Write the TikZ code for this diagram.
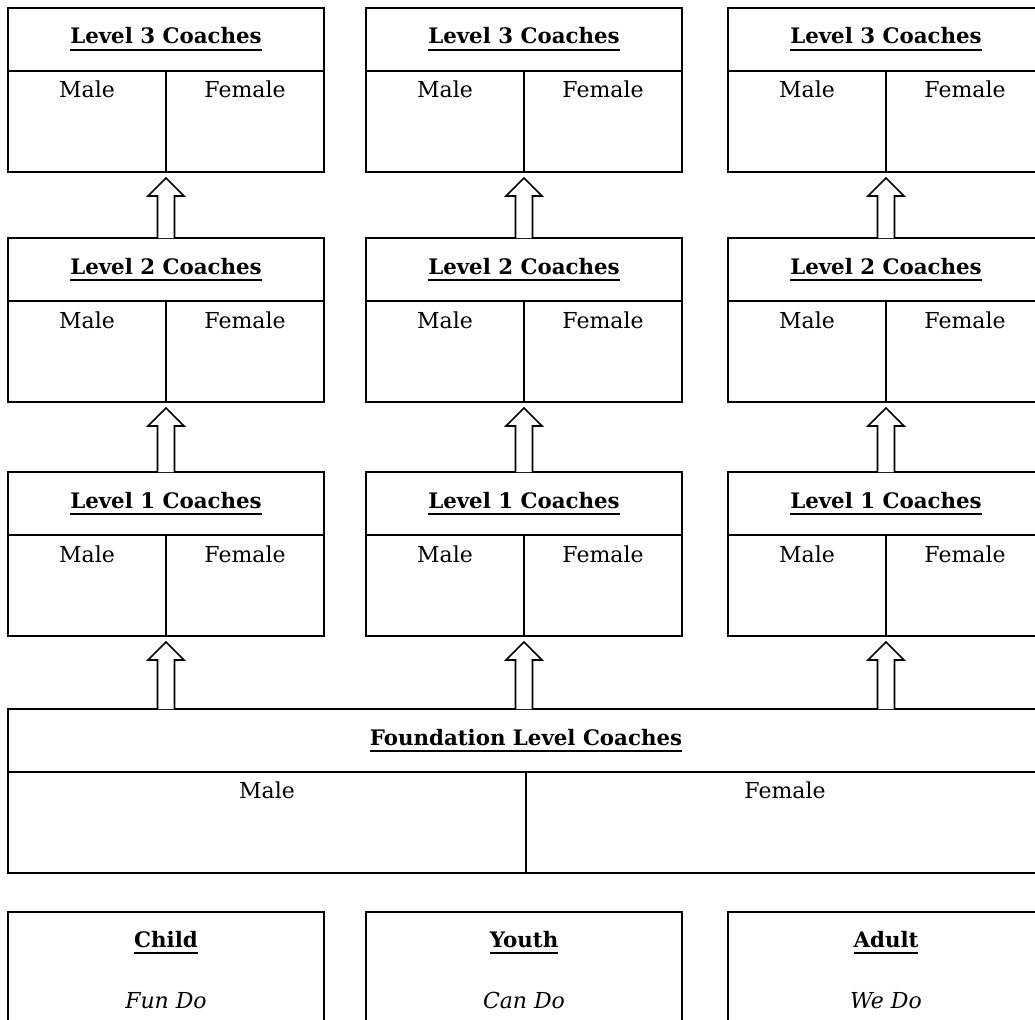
\documentclass[tikz,border=0pt]{standalone}
\usepackage{fontspec}
\setmainfont{DejaVu Serif}
\usetikzlibrary{calc}
\newlength\px \setlength\px{0.75pt}
\newcommand\myul[1]{\setbox0\hbox{#1}\rlap{\rule[-5pt]{\wd0}{1.5pt}}\box0}
\begin{document}
\begin{tikzpicture}[x=0.75pt,y=-0.75pt,
  hdr/.style={draw, line width=2.4\px, minimum width=316\px, minimum height=63\px, inner sep=0pt, outer sep=0pt},
  cell/.style={draw, line width=2.4\px, minimum width=158\px, minimum height=101\px, inner sep=0pt, outer sep=0pt},
  ttl/.style={anchor=base, inner sep=0pt, font=\fontsize{16}{19}\selectfont\bfseries},
  lab/.style={anchor=base, inner sep=0pt, font=\fontsize{16.5}{20}\selectfont},
  itl/.style={anchor=base, inner sep=0pt, font=\fontsize{16.5}{20}\selectfont\itshape},
  blk/.style={draw, line width=1.6\px, fill=white, line join=miter}
]
\clip (0,0) rectangle (1035,1020);
\fill[white] (0,0) rectangle (1035,1020);
% three columns, three levels
\foreach \c/\xl in {a/8, b/366, c/728}{
  \foreach \lv/\yt in {3/8, 2/238, 1/472}{
    \node[hdr] (h\lv\c) at (\xl+158, \yt+31.5) {};
    \node[cell] (m\lv\c) at (\xl+79, \yt+63+50.5) {};
    \node[cell] (f\lv\c) at (\xl+237, \yt+63+50.5) {};
    \node[ttl] (t\lv\c) at (\xl+158, \yt+36) {\myul{Level \lv\ Coaches}};
    \node[lab] (ml\lv\c) at (\xl+79, \yt+90) {Male};
    \node[lab] (fl\lv\c) at (\xl+237, \yt+90) {Female};
  }
}
% foundation
\node[draw, line width=2.4\px, minimum width=1036\px, minimum height=63\px, inner sep=0pt, outer sep=0pt] (fh) at (526, 740.5) {};
\node[draw, line width=2.4\px, minimum width=518\px, minimum height=101\px, inner sep=0pt, outer sep=0pt] (fm) at (267, 822.5) {};
\node[draw, line width=2.4\px, minimum width=518\px, minimum height=101\px, inner sep=0pt, outer sep=0pt] (ff) at (785, 822.5) {};
\node[ttl] (ft) at (526, 745) {\myul{Foundation Level Coaches}};
\node[lab] (fml) at (267, 798) {Male};
\node[lab] (ffl) at (785, 798) {Female};
% bottom boxes
\foreach \n/\xl/\tt/\sub in {child/8/Child/Fun Do, youth/366/Youth/Can Do, adult/728/Adult/We Do}{
  \node[draw, line width=2.4\px, minimum width=316\px, minimum height=160\px, inner sep=0pt, outer sep=0pt] (\n) at (\xl+158, 992) {};
  \node[ttl] (\n t) at (\xl+158, 947) {\myul{\tt}};
  \node[itl] (\n s) at (\xl+158, 1008) {\sub};
}
% block arrows
\foreach \up/\lo in {m3a/h2a, m3b/h2b, m3c/h2c, m2a/h1a, m2b/h1b, m2c/h1c, m1a/fh, m1b/fh, m1c/fh}{
  \draw[blk] let \p1=(\up.south east), \p2=(\lo.north) in
    (\x1-8.5\px, \y2) -- (\x1-8.5\px, \y1-24\px) -- (\x1-18\px, \y1-24\px) -- (\x1, \y1-6\px)
    -- (\x1+18\px, \y1-24\px) -- (\x1+8.5\px, \y1-24\px) -- (\x1+8.5\px, \y2);
}
\end{tikzpicture}
\end{document}
